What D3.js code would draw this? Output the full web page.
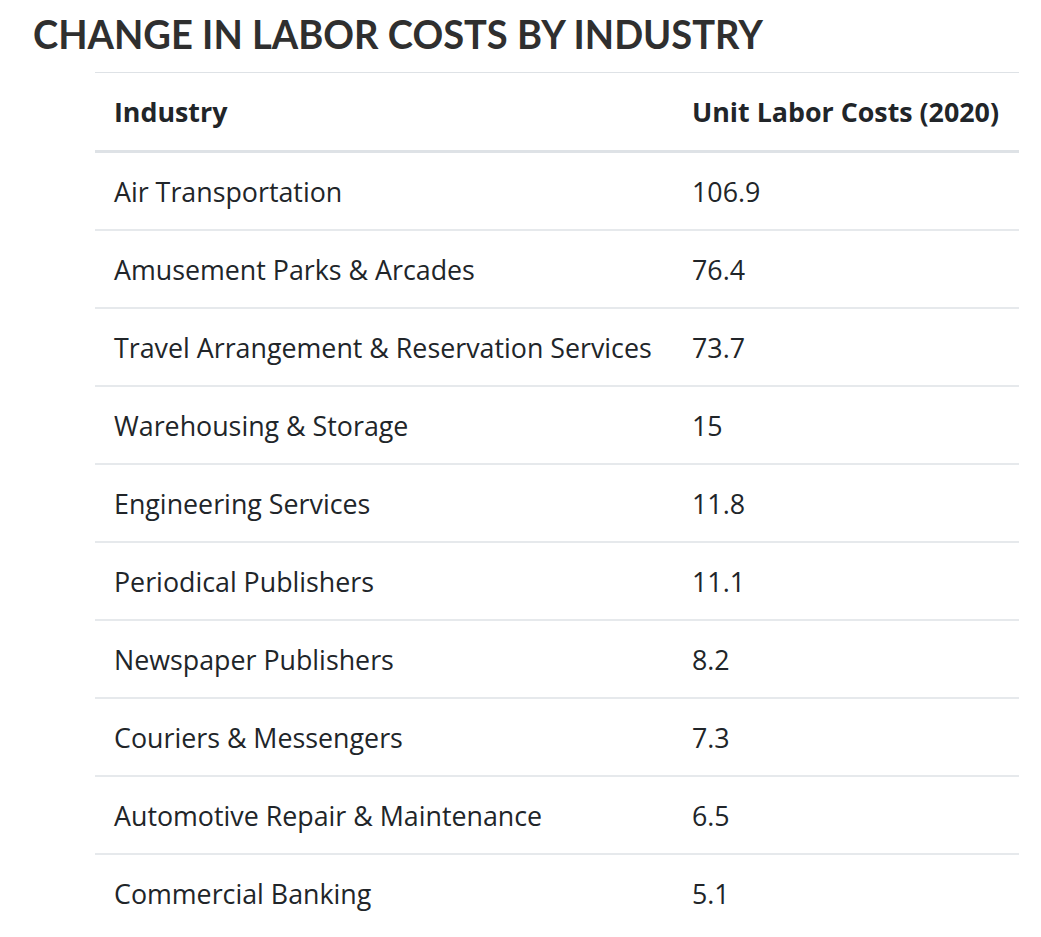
<!DOCTYPE html>
<html>
<head>
<meta charset="utf-8">
<script src="https://cdn.jsdelivr.net/npm/d3@7"></script>
<style>
    html, body { margin: 0; padding: 0; background: #fff; }
    svg { display: block; }
</style>
</head>
<body>
<div id="laborTable"></div>
<script>
const TITLE = 'CHANGE IN LABOR COSTS BY INDUSTRY';
const columns = ['Industry', 'Unit Labor Costs (2020)'];
const industries = [
    'Air Transportation',
    'Amusement Parks & Arcades',
    'Travel Arrangement & Reservation Services',
    'Warehousing & Storage',
    'Engineering Services',
    'Periodical Publishers',
    'Newspaper Publishers',
    'Couriers & Messengers',
    'Automotive Repair & Maintenance',
    'Commercial Banking'
];
const unitLaborCosts = ['106.9', '76.4', '73.7', '15', '11.8', '11.1', '8.2', '7.3', '6.5', '5.1'];

function createLaborTable() {
    const container = document.getElementById('laborTable');
    container.innerHTML = '';

    const width = 1041;
    const height = 937;
    const tableLeft = 95;
    const tableRight = 1019;
    const headerTop = 72;
    const headerBottom = 152;
    const rowHeight = 78;
    const fontSize = '26.8px';

    const svg = d3.select(container)
        .append('svg')
        .attr('width', width)
        .attr('height', height);

    // title
    svg.append('text')
        .attr('x', 33)
        .attr('y', 49)
        .attr('textLength', 730)
        .attr('lengthAdjust', 'spacingAndGlyphs')
        .style('font-family', 'Lato, sans-serif')
        .style('font-weight', 700)
        .style('font-size', '41px')
        .style('fill', '#2f2f2f')
        .text(TITLE);

    // text start of each column
    const x = d3.scaleOrdinal()
        .domain(columns)
        .range([tableLeft + 19, 692]);

    const y = d3.scaleBand()
        .domain(industries)
        .range([headerBottom, headerBottom + rowHeight * industries.length]);

    // table top border
    svg.append('line')
        .attr('x1', tableLeft).attr('x2', tableRight)
        .attr('y1', headerTop + 0.5).attr('y2', headerTop + 0.5)
        .attr('stroke', '#dee2e6')
        .attr('stroke-width', 1);

    // header cells
    svg.selectAll('.head')
        .data(columns)
        .enter()
        .append('text')
        .attr('class', 'head')
        .attr('x', d => x(d))
        .attr('y', (headerTop + headerBottom) / 2)
        .attr('dy', '0.38em')
        .style('font-family', '"Open Sans", sans-serif')
        .style('font-weight', 700)
        .style('font-size', fontSize)
        .style('fill', '#212529')
        .text(d => d);

    // header bottom border (thicker)
    svg.append('line')
        .attr('x1', tableLeft).attr('x2', tableRight)
        .attr('y1', headerBottom - 0.5).attr('y2', headerBottom - 0.5)
        .attr('stroke', '#dee2e6')
        .attr('stroke-width', 3);

    const rows = svg.selectAll('.row')
        .data(industries)
        .enter()
        .append('g')
        .attr('class', 'row')
        .attr('transform', d => `translate(0,${y(d)})`);

    // row separators (none under the last row)
    rows.filter((d, i) => i < industries.length - 1)
        .append('line')
        .attr('x1', tableLeft).attr('x2', tableRight)
        .attr('y1', y.bandwidth()).attr('y2', y.bandwidth())
        .attr('stroke', '#dee2e6')
        .attr('stroke-width', 1.5);

    rows.append('text')
        .attr('x', x(columns[0]))
        .attr('y', y.bandwidth() / 2)
        .attr('dy', '0.42em')
        .style('font-family', '"Open Sans", sans-serif')
        .style('font-size', fontSize)
        .style('fill', '#212529')
        .text(d => d);

    rows.append('text')
        .attr('x', x(columns[1]))
        .attr('y', y.bandwidth() / 2)
        .attr('dy', '0.42em')
        .style('font-family', '"Open Sans", sans-serif')
        .style('font-size', fontSize)
        .style('fill', '#212529')
        .text((d, i) => unitLaborCosts[i]);
}

createLaborTable();
</script>
</body>
</html>
